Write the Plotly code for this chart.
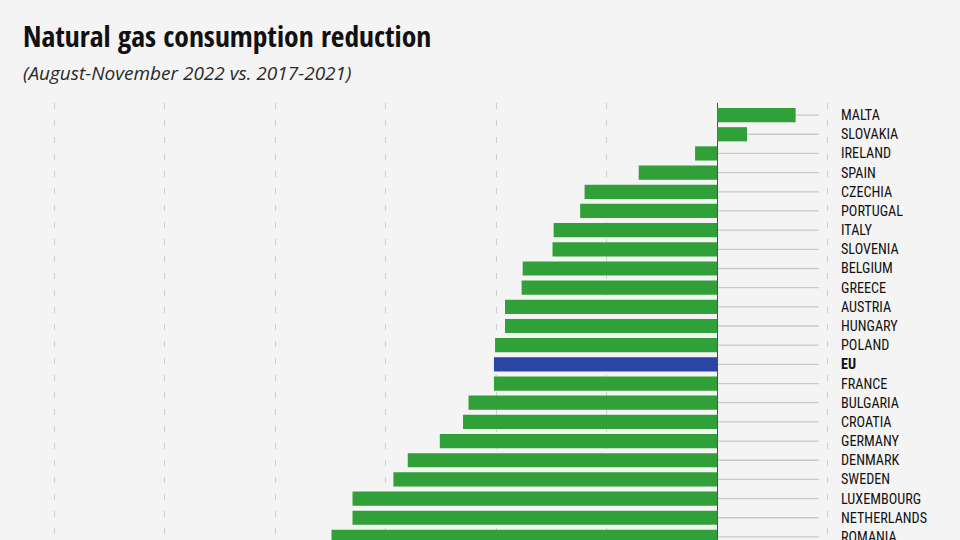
import plotly.graph_objects as go

countries = ["MALTA", "SLOVAKIA", "IRELAND", "SPAIN", "CZECHIA", "PORTUGAL", "ITALY",
             "SLOVENIA", "BELGIUM", "GREECE", "AUSTRIA", "HUNGARY", "POLAND", "EU",
             "FRANCE", "BULGARIA", "CROATIA", "GERMANY", "DENMARK", "SWEDEN",
             "LUXEMBOURG", "NETHERLANDS", "ROMANIA"]
values = [7.1, 2.7, -2.0, -7.1, -12.0, -12.4, -14.8, -14.9, -17.6, -17.7, -19.2, -19.2,
          -20.1, -20.2, -20.2, -22.5, -23.0, -25.1, -28.0, -29.3, -33.0, -33.0, -34.9]
grid_ticks = [-60, -50, -40, -30, -20, -10, 0, 10]
leader_end = 9.2

GREEN = "#31a039"
BLUE = "#2a45a6"
BG = "#f4f4f4"

colors = [BLUE if c == "EU" else GREEN for c in countries]
ticktext = ["<b>EU</b>" if c == "EU" else c for c in countries]
idx = list(range(len(countries)))

fig = go.Figure()
fig.add_trace(go.Bar(
    x=values, y=idx, orientation="h",
    marker=dict(color=colors, line=dict(width=0)),
    width=0.74, hoverinfo="skip", showlegend=False,
))

shapes = []
for i, v in zip(idx, values):
    shapes.append(dict(type="line", xref="x", yref="y", x0=max(0, v), x1=leader_end,
                       y0=i, y1=i, line=dict(color="#c9c9c9", width=1.3), layer="below"))

annotations = [
    dict(text="Natural gas consumption reduction", xref="paper", yref="paper",
         x=0.0, xanchor="left", y=1.1556, yanchor="middle", showarrow=False,
         font=dict(family="Open Sans Condensed", size=29.5, color="#111111", weight="bold")),
    dict(text="<i>(August-November 2022 vs. 2017-2021)</i>", xref="paper", yref="paper",
         x=0.0, xanchor="left", y=1.0686, yanchor="middle", showarrow=False,
         font=dict(family="Open Sans", size=19, color="#2a2a2a")),
]

fig.update_layout(
    width=960, height=540,
    paper_bgcolor=BG, plot_bgcolor=BG,
    margin=dict(l=21, r=129, t=103, b=0),
    shapes=shapes, annotations=annotations,
    xaxis=dict(range=[-63, 10.3], tickvals=grid_ticks, showticklabels=False,
               showgrid=True, gridcolor="#cfcfcf", gridwidth=1.2, griddash="6px,11px",
               zeroline=True, zerolinecolor="#4a4a4a", zerolinewidth=1.2,
               showline=False, fixedrange=True, automargin=False),
    yaxis=dict(range=[22.16, -0.63], tickvals=idx, ticktext=ticktext, side="right",
               showgrid=False, zeroline=False, showline=False, ticks="",
               ticklabelstandoff=9, ticklabeloverflow="allow", automargin=False,
               tickfont=dict(family="Roboto Condensed, DejaVu Sans Condensed, sans-serif",
                             size=14.2, color="#111111"), fixedrange=True),
)
fig.write_html("out.html", config={"displayModeBar": False},
               post_script="document.body.style.margin='0';")
